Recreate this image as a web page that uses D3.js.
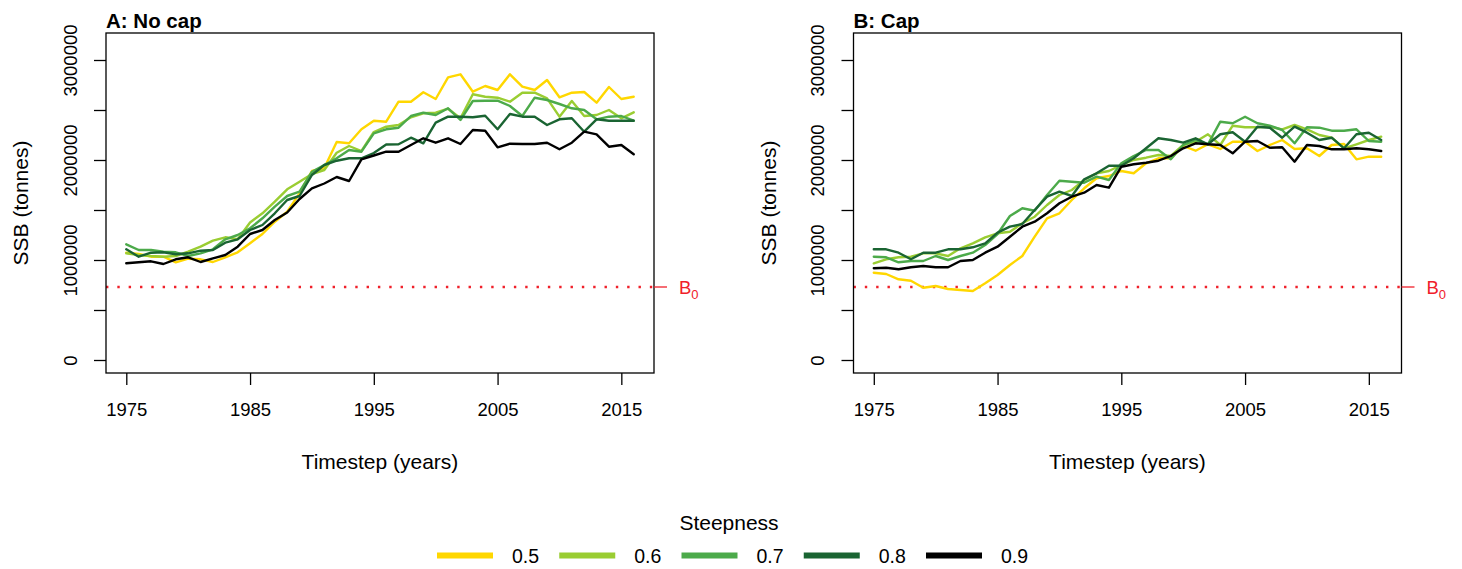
<!DOCTYPE html>
<html>
<head>
<meta charset="utf-8">
<script src="https://cdn.jsdelivr.net/npm/d3@7"></script>
<style>
  body { margin: 0; background: #fff; }
  text { font-family: "Liberation Sans", Arial, Helvetica, sans-serif; fill: #000; }
</style>
</head>
<body>
<svg id="chart" width="1462" height="569"></svg>
<script>
// ---- data -------------------------------------------------------------
const years = [1975,1976,1977,1978,1979,1980,1981,1982,1983,1984,
               1985,1986,1987,1988,1989,1990,1991,1992,1993,1994,
               1995,1996,1997,1998,1999,2000,2001,2002,2003,2004,
               2005,2006,2007,2008,2009,2010,2011,2012,2013,2014,
               2015,2016];

const steepness = ["0.5", "0.6", "0.7", "0.8", "0.9"];
const lineColours = ["#FFD700", "#9ACD32", "#4CAA4A", "#1A6432", "#000000"];

// Spawning stock biomass (tonnes), no catch cap
const noCap05 = [1073000,1060000,1033000,1033000,977000,1013000,1007000,980000,1027000,1077000,
                 1167000,1260000,1383000,1483000,1667000,1890000,1920000,2180000,2167000,2307000,
                 2393000,2383000,2583000,2583000,2677000,2610000,2827000,2857000,2683000,2740000,
                 2700000,2857000,2733000,2700000,2800000,2627000,2673000,2680000,2573000,2730000,
                 2610000,2633000];
const noCap06 = [1067000,1050000,1040000,1033000,1040000,1083000,1133000,1193000,1227000,1207000,
                 1375000,1467000,1583000,1707000,1783000,1860000,1900000,2073000,2140000,2090000,
                 2280000,2333000,2350000,2427000,2467000,2473000,2513000,2417000,2657000,2633000,
                 2623000,2583000,2673000,2673000,2617000,2433000,2590000,2440000,2450000,2500000,
                 2417000,2477000];
const noCap07 = [1157000,1100000,1100000,1083000,1077000,1040000,1067000,1107000,1207000,1250000,
                 1317000,1417000,1533000,1640000,1683000,1883000,1950000,2017000,2100000,2083000,
                 2267000,2307000,2323000,2440000,2473000,2450000,2517000,2400000,2590000,2593000,
                 2593000,2540000,2440000,2623000,2600000,2560000,2517000,2500000,2407000,2433000,
                 2440000,2393000];
const noCap08 = [1107000,1033000,1073000,1077000,1057000,1067000,1093000,1100000,1173000,1207000,
                 1300000,1350000,1467000,1600000,1640000,1850000,1950000,1993000,2017000,2017000,
                 2070000,2155000,2157000,2223000,2167000,2373000,2433000,2433000,2427000,2443000,
                 2307000,2460000,2433000,2433000,2350000,2407000,2417000,2283000,2407000,2393000,
                 2393000,2393000];
const noCap09 = [967000,977000,987000,960000,1007000,1027000,980000,1017000,1050000,1133000,
                 1260000,1300000,1400000,1475000,1610000,1717000,1765000,1830000,1790000,2007000,
                 2045000,2083000,2083000,2150000,2217000,2173000,2217000,2160000,2300000,2293000,
                 2127000,2163000,2160000,2160000,2173000,2107000,2173000,2283000,2257000,2133000,
                 2150000,2057000];

// Spawning stock biomass (tonnes), with catch cap
const cap05 = [873000,860000,807000,793000,723000,740000,710000,700000,690000,767000,
               850000,950000,1040000,1233000,1417000,1467000,1600000,1717000,1817000,1840000,
               1890000,1867000,1967000,2017000,2017000,2140000,2093000,2157000,2110000,2183000,
               2183000,2090000,2150000,2200000,2110000,2117000,2040000,2150000,2160000,2007000,
               2033000,2033000];
const cap06 = [967000,1007000,1027000,1033000,1067000,1067000,1040000,1117000,1167000,1227000,
               1267000,1283000,1367000,1433000,1550000,1650000,1700000,1800000,1867000,1890000,
               1950000,2000000,2023000,2050000,2040000,2150000,2183000,2257000,2150000,2343000,
               2327000,2327000,2333000,2307000,2350000,2307000,2250000,2223000,2117000,2157000,
               2200000,2233000];
const cap07 = [1033000,1027000,977000,990000,990000,1040000,1000000,1040000,1073000,1150000,
               1260000,1440000,1517000,1493000,1650000,1793000,1783000,1773000,1833000,1800000,
               1967000,2040000,2100000,2100000,2007000,2150000,2200000,2157000,2383000,2367000,
               2433000,2367000,2343000,2300000,2167000,2327000,2323000,2293000,2293000,2307000,
               2190000,2183000];
const cap08 = [1107000,1107000,1073000,1007000,1073000,1073000,1107000,1107000,1127000,1167000,
               1273000,1333000,1360000,1500000,1633000,1683000,1640000,1807000,1867000,1943000,
               1943000,2017000,2117000,2217000,2200000,2173000,2217000,2157000,2257000,2277000,
               2183000,2333000,2323000,2223000,2333000,2273000,2200000,2223000,2117000,2257000,
               2273000,2200000];
const cap09 = [917000,923000,907000,927000,940000,927000,927000,990000,1000000,1073000,
               1133000,1233000,1333000,1383000,1467000,1567000,1633000,1673000,1750000,1723000,
               1933000,1957000,1973000,1993000,2040000,2117000,2167000,2157000,2150000,2067000,
               2183000,2190000,2123000,2127000,1983000,2150000,2140000,2107000,2107000,2117000,
               2107000,2090000];

const B0 = 730000;                       // unfished reference biomass
const yTicks = [0, 500000, 1000000, 1500000, 2000000, 2500000, 3000000];
const yTickLabels = ["0", "", "1000000", "", "2000000", "", "3000000"];
const xTicks = [1975, 1985, 1995, 2005, 2015];

const panels = [
  { title: "A: No cap", left: 106,   series: [noCap05, noCap06, noCap07, noCap08, noCap09] },
  { title: "B: Cap",    left: 853.5, series: [cap05, cap06, cap07, cap08, cap09] }
];

// ---- layout -----------------------------------------------------------
const svg = d3.select("#chart");
const plotW = 548, plotH = 340, plotTop = 33;
const fontSize = 18.5;      // tick labels
const titleSize = 21;       // axis titles
const legendSize = 19.5;
const tickLen = 12;
const red = "#F0202A";

const xPad = (years[years.length - 1] - years[0]) * 0.04;
const x = d3.scaleLinear()
  .domain([years[0] - xPad, years[years.length - 1] + xPad])
  .range([0, plotW]);
const y = d3.scaleLinear()
  .domain([-130000, 3270000])
  .range([plotH, 0]);

const line = d3.line()
  .x((d, i) => x(years[i]))
  .y(d => y(d));

panels.forEach(p => {
  const g = svg.append("g").attr("transform", `translate(${p.left},${plotTop})`);

  // reference level B0
  g.append("line")
    .attr("x1", 0).attr("x2", plotW)
    .attr("y1", y(B0)).attr("y2", y(B0))
    .attr("stroke", red).attr("stroke-width", 2.4)
    .attr("stroke-linecap", "butt")
    .attr("stroke-dasharray", "2.4,8.93");

  // biomass trajectories
  p.series.forEach((s, k) => {
    g.append("path")
      .datum(s)
      .attr("d", line)
      .attr("fill", "none")
      .attr("stroke", lineColours[k])
      .attr("stroke-width", 2.4)
      .attr("stroke-linejoin", "round")
      .attr("stroke-linecap", "round");
  });

  // frame
  g.append("rect")
    .attr("x", 0).attr("y", 0)
    .attr("width", plotW).attr("height", plotH)
    .attr("fill", "none").attr("stroke", "#000").attr("stroke-width", 1.3);

  // y axis
  const ya = g.append("g")
    .call(d3.axisLeft(y).tickValues(yTicks).tickSize(tickLen)
      .tickFormat((d, i) => yTickLabels[i]));
  ya.select(".domain").remove();
  ya.selectAll(".tick line").attr("stroke", "#000").attr("stroke-width", 1.3);
  ya.selectAll(".tick text")
    .attr("transform", "rotate(-90)")
    .attr("text-anchor", "middle")
    .attr("x", 0).attr("y", -36).attr("dy", "0.36em")
    .style("font-size", fontSize + "px")
    .style("font-family", "'Liberation Sans', Arial, sans-serif");

  // x axis
  const xa = g.append("g")
    .attr("transform", `translate(0,${plotH})`)
    .call(d3.axisBottom(x).tickValues(xTicks).tickSize(tickLen).tickPadding(18)
      .tickFormat(d3.format("d")));
  xa.select(".domain").remove();
  xa.selectAll(".tick line").attr("stroke", "#000").attr("stroke-width", 1.3);
  xa.selectAll(".tick text")
    .style("font-size", fontSize + "px")
    .style("font-family", "'Liberation Sans', Arial, sans-serif");

  // B0 marker on the right-hand side
  g.append("line")
    .attr("x1", plotW).attr("x2", plotW + 13)
    .attr("y1", y(B0)).attr("y2", y(B0))
    .attr("stroke", red).attr("stroke-width", 1.3);
  const b0 = g.append("text")
    .attr("x", plotW + 25).attr("y", y(B0) + 6.5)
    .style("font-size", fontSize + "px")
    .style("fill", red);
  b0.append("tspan").text("B");
  b0.append("tspan").attr("dy", 5).style("font-size", "13px").text("0");

  // panel title
  g.append("text")
    .attr("x", 0).attr("y", -5)
    .style("font-size", "20.5px").style("font-weight", "bold")
    .text(p.title);

  // axis titles
  g.append("text")
    .attr("x", plotW / 2).attr("y", plotH + 96)
    .attr("text-anchor", "middle")
    .style("font-size", titleSize + "px")
    .text("Timestep (years)");
  g.append("text")
    .attr("transform", `translate(-78,${plotH / 2}) rotate(-90)`)
    .attr("text-anchor", "middle")
    .style("font-size", titleSize + "px")
    .text("SSB (tonnes)");
});

// ---- legend -------------------------------------------------------------
const legend = svg.append("g");
legend.append("text")
  .attr("x", 729).attr("y", 530)
  .attr("text-anchor", "middle")
  .style("font-size", titleSize + "px")
  .text("Steepness");

const legX = d3.scalePoint().domain(steepness).range([437, 926]);
steepness.forEach((s, k) => {
  const x0 = legX(s);
  legend.append("line")
    .attr("x1", x0).attr("x2", x0 + 56)
    .attr("y1", 555.5).attr("y2", 555.5)
    .attr("stroke", lineColours[k]).attr("stroke-width", 6);
  legend.append("text")
    .attr("x", x0 + 75).attr("y", 562.5)
    .style("font-size", legendSize + "px")
    .text(s);
});
</script>
</body>
</html>
